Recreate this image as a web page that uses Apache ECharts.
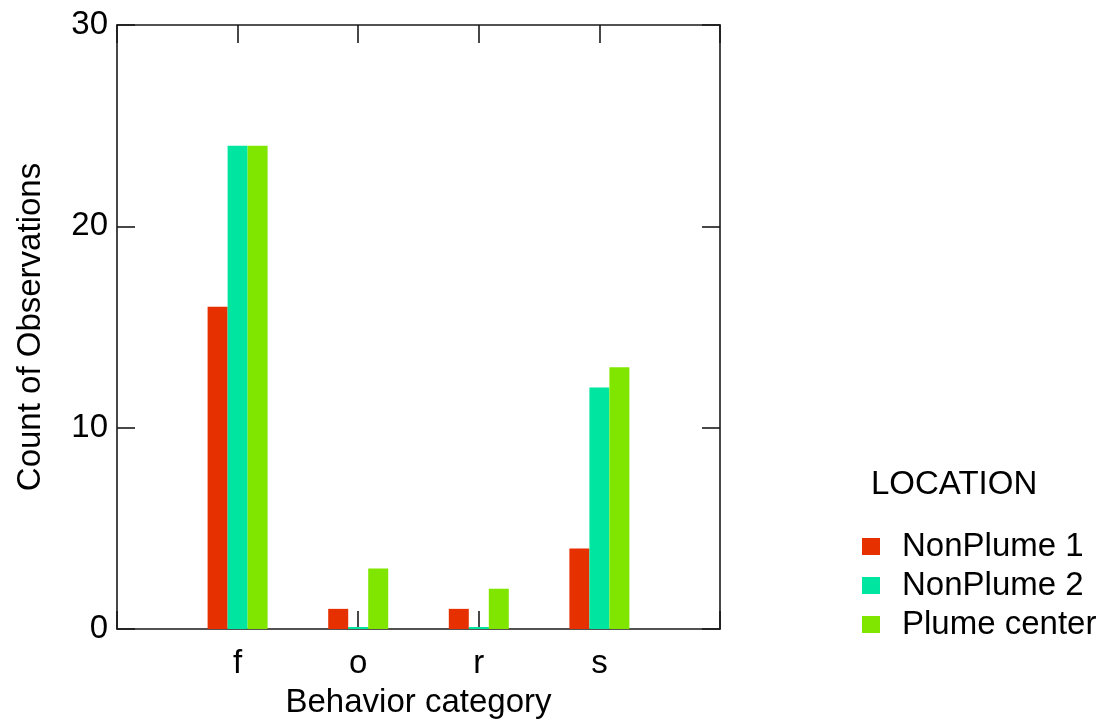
<!DOCTYPE html>
<html>
<head>
<meta charset="utf-8">
<script src="https://cdn.jsdelivr.net/npm/echarts@6/dist/echarts.min.js"></script>
<style>
  html, body { margin: 0; padding: 0; background: #fff; }
  #chart { width: 1116px; height: 727px; }
</style>
</head>
<body>
<div id="chart"></div>
<script>
const categories = ['f', 'o', 'r', 's'];
const seriesNames = ['NonPlume 1', 'NonPlume 2', 'Plume center'];
const nonPlume1 = [16, 1, 1, 4];
const nonPlume2 = [24, 0, 0, 12];
const plumeCenter = [24, 3, 2, 13];
const yTicks = [0, 10, 20, 30];

const colors = ['#E63000', '#00E5A0', '#80E600'];
const FONT = 'Liberation Sans, Arial, sans-serif';
const FS = 33;
const axisData = [''].concat(categories, ['']);
function pad(arr) { return ['-'].concat(arr, ['-']); }
const lineStyle = { color: '#1a1a1a', width: 1.6 };

const chart = echarts.init(document.getElementById('chart'));
chart.setOption({
  animation: false,
  textStyle: { fontFamily: FONT },
  grid: { left: 117, right: 396, top: 25, bottom: 98, containLabel: false },
  title: {
    text: 'LOCATION', left: 866, top: 463,
    textStyle: { fontFamily: FONT, fontSize: FS, fontWeight: 'normal', color: '#000' }
  },
  legend: {
    orient: 'vertical', left: 857, top: 525,
    icon: 'path://M0,0H18V17H0Z M34.98,0H35V0.02H34.98Z',
    itemWidth: 35, itemHeight: 17, itemGap: 6,
    data: seriesNames,
    textStyle: { fontFamily: FONT, fontSize: FS, color: '#000' }
  },
  xAxis: [{
    type: 'category', data: axisData, boundaryGap: false, position: 'bottom',
    name: 'Behavior category', nameLocation: 'middle', nameGap: 57,
    nameTextStyle: { fontFamily: FONT, fontSize: FS, color: '#000' },
    axisLine: { show: true, onZero: false, lineStyle: lineStyle },
    axisTick: { show: true, inside: true, length: 18, lineStyle: lineStyle },
    axisLabel: { fontFamily: FONT, fontSize: FS, color: '#000', margin: 18, interval: 0 },
    splitLine: { show: false }
  }, {
    type: 'category', data: axisData, boundaryGap: false, position: 'top',
    axisLine: { show: true, onZero: false, lineStyle: lineStyle },
    axisTick: { show: true, inside: true, length: 18, lineStyle: lineStyle },
    axisLabel: { show: false },
    splitLine: { show: false }
  }],
  yAxis: [{
    type: 'value', min: yTicks[0], max: yTicks[yTicks.length - 1], interval: 10, position: 'left',
    name: 'Count of Observations', nameLocation: 'middle', nameGap: 70,
    nameTextStyle: { fontFamily: FONT, fontSize: FS, color: '#000' },
    axisLine: { show: true, onZero: false, lineStyle: lineStyle },
    axisTick: { show: true, inside: true, length: 18, lineStyle: lineStyle },
    axisLabel: { fontFamily: FONT, fontSize: FS, color: '#000', margin: 9 },
    splitLine: { show: false }
  }, {
    type: 'value', min: yTicks[0], max: yTicks[yTicks.length - 1], interval: 10, position: 'right',
    axisLine: { show: true, onZero: false, lineStyle: lineStyle },
    axisTick: { show: true, inside: true, length: 18, lineStyle: lineStyle },
    axisLabel: { show: false },
    splitLine: { show: false }
  }],
  series: [
    { name: seriesNames[0], type: 'bar', data: pad(nonPlume1), barWidth: 20, barGap: '0%',
      itemStyle: { color: colors[0] } },
    { name: seriesNames[1], type: 'bar', data: pad(nonPlume2), barWidth: 20, barGap: '0%', barMinHeight: 2,
      itemStyle: { color: colors[1] } },
    { name: seriesNames[2], type: 'bar', data: pad(plumeCenter), barWidth: 20, barGap: '0%',
      itemStyle: { color: colors[2] } }
  ]
});
</script>
</body>
</html>
